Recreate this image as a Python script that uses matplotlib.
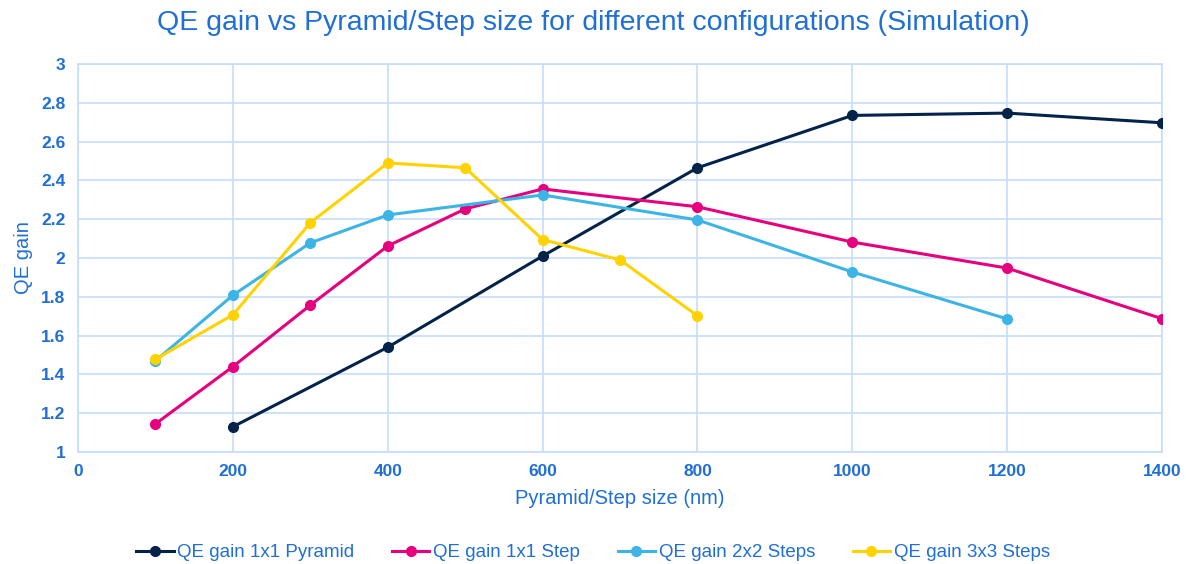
import matplotlib
matplotlib.use('Agg')
import matplotlib.pyplot as plt

plt.rcParams['font.family'] = ['Liberation Sans', 'DejaVu Sans']

# data
x_pyr = [200, 400, 600, 800, 1000, 1200, 1400]
y_pyr = [1.13, 1.54, 2.01, 2.465, 2.735, 2.747, 2.697]

x_step = [100, 200, 300, 400, 500, 600, 800, 1000, 1200, 1400]
y_step = [1.145, 1.44, 1.757, 2.062, 2.253, 2.356, 2.264, 2.082, 1.948, 1.687]

x_2x2 = [100, 200, 300, 400, 600, 800, 1000, 1200]
y_2x2 = [1.47, 1.808, 2.078, 2.222, 2.325, 2.196, 1.928, 1.686]

x_3x3 = [100, 200, 300, 400, 500, 600, 700, 800]
y_3x3 = [1.478, 1.707, 2.182, 2.49, 2.465, 2.095, 1.99, 1.702]

labels = ['QE gain 1x1 Pyramid', 'QE gain 1x1 Step', 'QE gain 2x2 Steps', 'QE gain 3x3 Steps']
colors = ['#03234B', '#E6007E', '#3CB4E6', '#FFD200']
text_blue = '#1F6FD6'
grid_col = '#C5DDFB'

fig = plt.figure(figsize=(11.86, 5.64), dpi=100)
ax = fig.add_axes([0.0658, 0.1986, 0.914, 0.6879])

series = [(x_pyr, y_pyr), (x_step, y_step), (x_2x2, y_2x2), (x_3x3, y_3x3)]
for (xs, ys), lab, c in zip(series, labels, colors):
    ax.plot(xs, ys, color=c, lw=2.2, marker='o', ms=7, label=lab, zorder=3)

ax.set_xlim(0, 1400)
ax.set_ylim(1, 3)
ax.set_xticks([0, 200, 400, 600, 800, 1000, 1200, 1400])
ax.set_yticks([1, 1.2, 1.4, 1.6, 1.8, 2, 2.2, 2.4, 2.6, 2.8, 3])
ax.set_yticklabels(['1', '1.2', '1.4', '1.6', '1.8', '2', '2.2', '2.4', '2.6', '2.8', '3'])
ax.grid(True, color=grid_col, lw=1.2, zorder=0)
for s in ax.spines.values():
    s.set_color(grid_col)
    s.set_linewidth(1.2)
ax.tick_params(length=0, colors=text_blue, labelsize=12.5, pad=9)
for t in ax.get_xticklabels() + ax.get_yticklabels():
    t.set_fontweight('bold')

ax.set_xlabel('Pyramid/Step size (nm)', color=text_blue, fontsize=14.5, labelpad=7)
ax.set_ylabel('QE gain', color=text_blue, fontsize=14.5, labelpad=6)
fig.suptitle('QE gain vs Pyramid/Step size for different configurations (Simulation)',
             color=text_blue, fontsize=20.5, x=0.5, y=0.983)

leg = fig.legend(loc='lower center', bbox_to_anchor=(0.5, -0.025), ncol=4, frameon=False,
                 fontsize=13.5, handlelength=2.0, handletextpad=0.2, columnspacing=2.0)
for t in leg.get_texts():
    t.set_color(text_blue)

fig.savefig('out.png', dpi=100)
